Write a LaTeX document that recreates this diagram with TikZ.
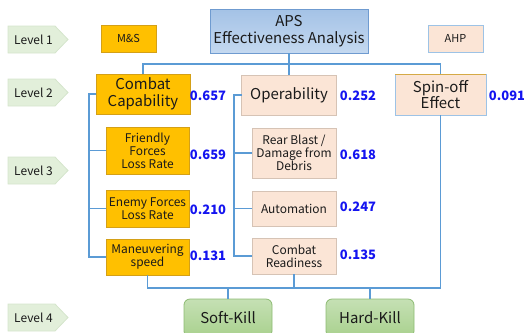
\documentclass[tikz,border=0pt]{standalone}
\usepackage{fontspec}
\setmainfont{Noto Sans CJK KR}
\definecolor{lvlfill}{HTML}{E2EFDA}
\definecolor{lvldraw}{HTML}{D5E5CC}
\definecolor{gold}{HTML}{FFC000}
\definecolor{golddraw}{HTML}{D4A017}
\definecolor{peach}{HTML}{FBE5D6}
\definecolor{peachdraw}{HTML}{D6C3B5}
\definecolor{bluedraw}{HTML}{9DC3E6}
\definecolor{apsdraw}{HTML}{6F9BD0}
\definecolor{apstop}{HTML}{A4C2E6}
\definecolor{apsbot}{HTML}{C4D9F0}
\definecolor{grtop}{HTML}{C5E0B4}
\definecolor{grbot}{HTML}{A9D18E}
\definecolor{grdraw}{HTML}{8DBB73}
\definecolor{linec}{HTML}{5B9BD5}
\definecolor{valc}{HTML}{1414F0}
\definecolor{txt}{HTML}{1A1A1A}
\begin{document}
\begin{tikzpicture}[x=1bp,y=-1bp,
  every node/.style={inner sep=0pt, outer sep=0pt, text=txt, align=center},
  lvl/.style={fill=lvlfill, draw=lvldraw, line width=0.8bp},
  goldbox/.style={fill=gold, draw=golddraw, line width=0.8bp},
  peachbox/.style={fill=peach, draw=peachdraw, line width=0.8bp},
  greenbox/.style={top color=grtop, bottom color=grbot, draw=grdraw, line width=0.8bp, rounded corners=6bp},
  big/.style={font=\fontsize{15}{16.5}\selectfont},
  mid/.style={font=\fontsize{12}{13}\selectfont},
  small/.style={font=\fontsize{11}{12}\selectfont},
  val/.style={font=\fontsize{13}{14}\selectfont\bfseries, text=valc},
  conn/.style={draw=linec, line width=1.3bp}
]
\useasboundingbox (0,0) rectangle (524,332);
\clip (0,0) rectangle (524,332);
% level markers
\foreach \yy/\nm/\lab in {26/l1/Level 1, 79/l2/Level 2, 157/l3/Level 3, 304/l4/Level 4}{
  \draw[lvl] (8,\yy) -- (55,\yy) -- (68,\yy+13.5) -- (55,\yy+27) -- (8,\yy+27) -- cycle;
  \node[mid] (\nm) at (33.5,\yy+13.5) {\lab};
}
% top row
\node[goldbox, small, minimum width=55bp, minimum height=27bp] (ms) at (128.5,38.5) {M\&S};
\node[draw=apsdraw, top color=apstop, bottom color=apsbot, line width=0.8bp, big, minimum width=158bp, minimum height=44bp] (aps) at (289,31) {APS\\Effectiveness Analysis};
\node[peachbox, draw=bluedraw, small, minimum width=55bp, minimum height=27bp] (ahp) at (455.5,38.5) {AHP};
% level 2
\node[goldbox, big, minimum width=94bp, minimum height=40bp] (cc) at (143,94) {Combat\\Capability};
\node[peachbox, big, minimum width=95bp, minimum height=40bp] (op) at (289,95) {Operability};
\node[peachbox, draw=bluedraw, big, minimum width=91bp, minimum height=41bp] (so) at (440.5,94.5) {Spin-off\\Effect};
\draw[draw=golddraw!70!peachdraw, line width=0.8bp] (so.north west) -- (so.north east);
% level 3 left
\node[goldbox, mid, minimum width=83bp, minimum height=47bp] (ff) at (147.5,150.5) {Friendly\\Forces\\Loss Rate};
\node[goldbox, mid, minimum width=83bp, minimum height=37bp] (ef) at (147.5,208.5) {Enemy Forces\\Loss Rate};
\node[goldbox, mid, minimum width=83bp, minimum height=36bp] (mv) at (147.5,257) {Maneuvering\\speed};
% level 3 middle
\node[peachbox, mid, minimum width=84bp, minimum height=50bp] (rb) at (294,153) {Rear Blast /\\Damage from\\Debris};
\node[peachbox, mid, minimum width=84bp, minimum height=35bp] (au) at (294,208.5) {Automation};
\node[peachbox, mid, minimum width=84bp, minimum height=36bp] (cr) at (294,256) {Combat\\Readiness};
% level 4
\node[greenbox, big, minimum width=88bp, minimum height=38bp] (sk) at (228,318) {Soft-Kill};
\node[greenbox, big, minimum width=88bp, minimum height=38bp] (hk) at (370,318) {Hard-Kill};
% values
\node[val] (vcc) at (208,96) {0.657};
\node[val] (vop) at (358,96) {0.252};
\node[val] (vso) at (507,96) {0.091};
\node[val] (vff) at (208,155) {0.659};
\node[val] (vrb) at (358,155) {0.618};
\node[val] (vef) at (208,210) {0.210};
\node[val] (vau) at (358,207) {0.247};
\node[val] (vmv) at (208,256) {0.131};
\node[val] (vcr) at (358,255) {0.135};
% connectors
\coordinate (tb) at (0,64);
\coordinate (lb) at (89,0);
\coordinate (mb) at (234,0);
\coordinate (bb) at (0,288);
\draw[conn] (aps.south) -- (op.north);
\draw[conn] (cc.north) -- (cc.north |- tb) -- (so.north |- tb) -- (so.north);
\draw[conn] (cc.west) -- (cc.west -| lb) -- (mv.west -| lb) -- (mv.west);
\draw[conn] (ff.west) -- (ff.west -| lb);
\draw[conn] (ef.west) -- (ef.west -| lb);
\draw[conn] (op.west) -- (op.west -| mb) -- (cr.west -| mb) -- (cr.west);
\draw[conn] (rb.west) -- (rb.west -| mb);
\draw[conn] (au.west) -- (au.west -| mb);
\draw[conn] (mv.south) -- (mv.south |- bb) -- (so.south |- bb) -- (so.south);
\draw[conn] (cr.south) -- (cr.south |- bb);
\draw[conn] (sk.north) -- (sk.north |- bb);
\draw[conn] (hk.north) -- (hk.north |- bb);
\end{tikzpicture}
\end{document}
